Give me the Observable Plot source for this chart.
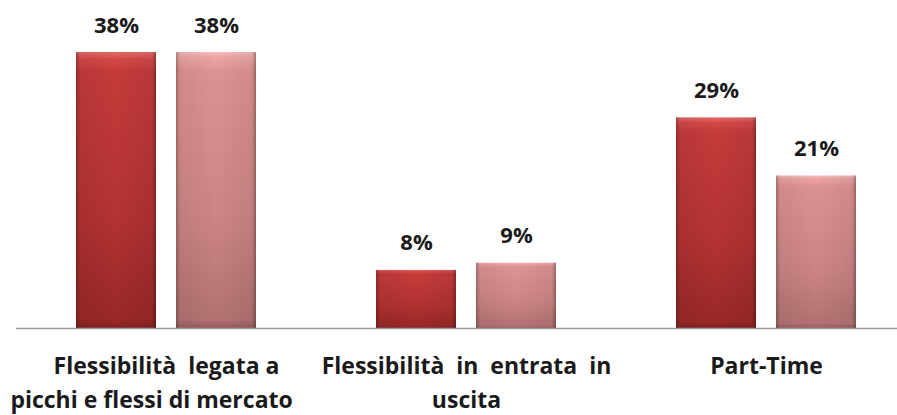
<!DOCTYPE html>
<html>
<head>
<meta charset="utf-8">
<script src="https://cdn.jsdelivr.net/npm/d3@7"></script>
<script src="https://cdn.jsdelivr.net/npm/@observablehq/plot@0.6"></script>
<style>
  html, body { margin: 0; padding: 0; background: #ffffff; }
  #chart { width: 897px; height: 415px; overflow: hidden; }
</style>
</head>
<body>
<div id="chart"></div>
<script>
const categories = [
  "Flessibilità  legata a\npicchi e flessi di mercato\u00a0\u00a0\u00a0\u00a0\u00a0",
  "Flessibilità  in  entrata  in\nuscita",
  "Part-Time"
];
const series = ["Serie 1", "Serie 2"];
const serie1 = [38, 8, 29];
const serie2 = [38, 9, 21];

const data = [];
categories.forEach((c, i) => {
  data.push({cat: c, series: series[0], value: serie1[i]});
  data.push({cat: c, series: series[1], value: serie2[i]});
});

const svg = Plot.plot({
  width: 897,
  height: 415,
  marginTop: 52,
  marginBottom: 87,
  marginLeft: 0,
  marginRight: 0,
  style: {fontFamily: "'Open Sans', sans-serif", background: "white"},
  fx: {domain: categories, range: [15, 917], padding: 0, label: null},
  x: {domain: series, paddingInner: 0.198, paddingOuter: 0.588, axis: null},
  y: {domain: [0, 38], axis: null},
  color: {domain: series, range: ["url(#gDark)", "url(#gLight)"]},
  marks: [
    Plot.barY(data, {fx: "cat", x: "series", y: "value", fill: "series"}),
    Plot.barY(data, {fx: "cat", x: "series", y: "value", fill: "url(#gSide)"}),
    Plot.ruleY([0], {stroke: "#9a9a9a", strokeWidth: 1.5}),
    Plot.text(data, {
      fx: "cat", x: "series", y: "value",
      text: d => d.value + "%",
      dy: -27, fontSize: 22, fontWeight: "bold", fill: "#1a1a1a"
    }),
    Plot.axisFx({
      anchor: "bottom", tickSize: 0, tickPadding: 22,
      fontSize: 23, fontWeight: "bold", lineHeight: 1.45,
      label: null, fill: "#1a1a1a"
    })
  ]
});

const defs = d3.select(svg).insert("defs", ":first-child");
function grad(id, stops, horizontal) {
  const g = defs.append("linearGradient").attr("id", id)
    .attr("x1", 0).attr("y1", 0)
    .attr("x2", horizontal ? 1 : 0).attr("y2", horizontal ? 0 : 1);
  stops.forEach(([o, c, a]) => g.append("stop").attr("offset", o).attr("stop-color", c).attr("stop-opacity", a == null ? 1 : a));
}
grad("gDark", [[0, "#e56b69"], [0.025, "#d44a49"], [0.07, "#c43b3b"], [0.6, "#b33232"], [0.97, "#9a2828"], [1, "#842121"]]);
grad("gLight", [[0, "#f5bab8"], [0.025, "#eaa3a2"], [0.07, "#dd9393"], [0.6, "#cd8585"], [0.97, "#b37272"], [1, "#9a5c5c"]]);
grad("gSide", [[0, "#000", 0.28], [0.05, "#000", 0.06], [0.5, "#000", 0], [0.95, "#000", 0.06], [1, "#000", 0.32]], true);

document.getElementById("chart").appendChild(svg);
</script>
</body>
</html>
